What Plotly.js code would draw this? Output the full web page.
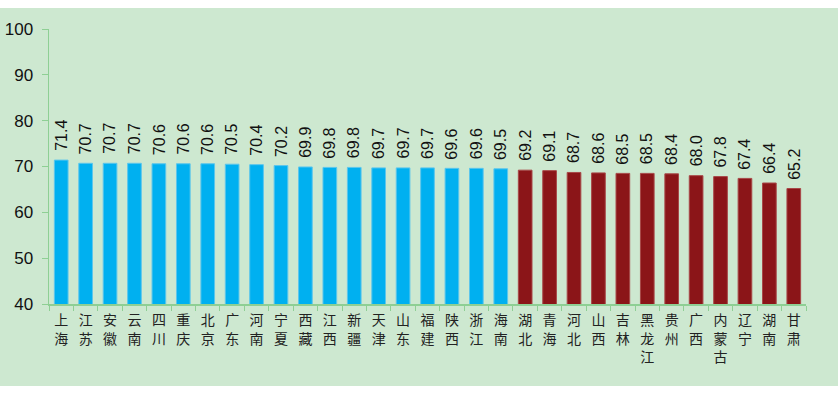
<!DOCTYPE html>
<html><head><meta charset="utf-8">
<script src="https://cdn.plot.ly/plotly-3.0.1.min.js"></script>
<style>
html,body{margin:0;padding:0;background:#fff;}
#chart{position:absolute;left:0;top:8px;width:838px;height:378px;}
</style></head>
<body><div id="chart"></div>
<script>
const provinces = ["上海","江苏","安徽","云南","四川","重庆","北京","广东","河南","宁夏","西藏","江西","新疆","天津","山东","福建","陕西","浙江","海南","湖北","青海","河北","山西","吉林","黑龙江","贵州","广西","内蒙古","辽宁","湖南","甘肃"];
const values = [71.4,70.7,70.7,70.7,70.6,70.6,70.6,70.5,70.4,70.2,69.9,69.8,69.8,69.7,69.7,69.7,69.6,69.6,69.5,69.2,69.1,68.7,68.6,68.5,68.5,68.4,68.0,67.8,67.4,66.4,65.2];
const groupA = 19; // first group count (blue)
const yTicks = [40,50,60,70,80,90,100];

const colors = values.map((v,i)=> i < groupA ? "#00B0F0" : "#8B1518");
const lineColors = values.map((v,i)=> i < groupA ? "#5CC6EC" : "#A84848");
const verticalLabels = provinces.map(p => Array.from(p).join("<br>"));

const trace = {
  type: "bar",
  x: provinces,
  y: values,
  width: 0.56,
  marker: {color: colors, line: {color: lineColors, width: 1}},
  hoverinfo: "x+y"
};

const annotations = provinces.map((p,i)=>({
  x: p, y: values[i], xref: "x", yref: "y",
  text: values[i].toFixed(1), showarrow: false, textangle: -90,
  xanchor: "center", yanchor: "bottom", yshift: 7,
  font: {family: "Liberation Sans, Arial, sans-serif", size: 16, color: "#111"}
}));

const layout = {
  width: 838, height: 378,
  margin: {l: 49, r: 32, t: 21, b: 82, pad: 0},
  paper_bgcolor: "#CDE8D0",
  plot_bgcolor: "#CDE8D0",
  showlegend: false,
  bargap: 0.44,
  xaxis: {
    type: "category",
    tickvals: provinces, ticktext: verticalLabels, tickangle: 0,
    tickfont: {family: "Noto Sans CJK SC, sans-serif", size: 14, color: "#222"},
    ticklabelstandoff: 3,
    showline: true, linecolor: "#8ECF94", linewidth: 1.5,
    ticks: "outside", tickson: "boundaries", ticklen: 5, tickcolor: "#8ECF94", tickwidth: 1,
    showgrid: false, zeroline: false, fixedrange: true
  },
  yaxis: {
    range: [40, 100],
    tickvals: yTicks, ticktext: yTicks.map(String),
    showline: true, linecolor: "#8ECF94", linewidth: 1.5,
    ticks: "outside", ticklen: 6, tickcolor: "#8ECF94", tickwidth: 1,
    ticklabelstandoff: 5,
    showgrid: false, zeroline: false, fixedrange: true,
    tickfont: {family: "Liberation Sans, Arial, sans-serif", size: 17, color: "#111"}
  },
  annotations: annotations
};

Plotly.newPlot("chart", [trace], layout, {displayModeBar: false, staticPlot: true});
</script></body></html>
